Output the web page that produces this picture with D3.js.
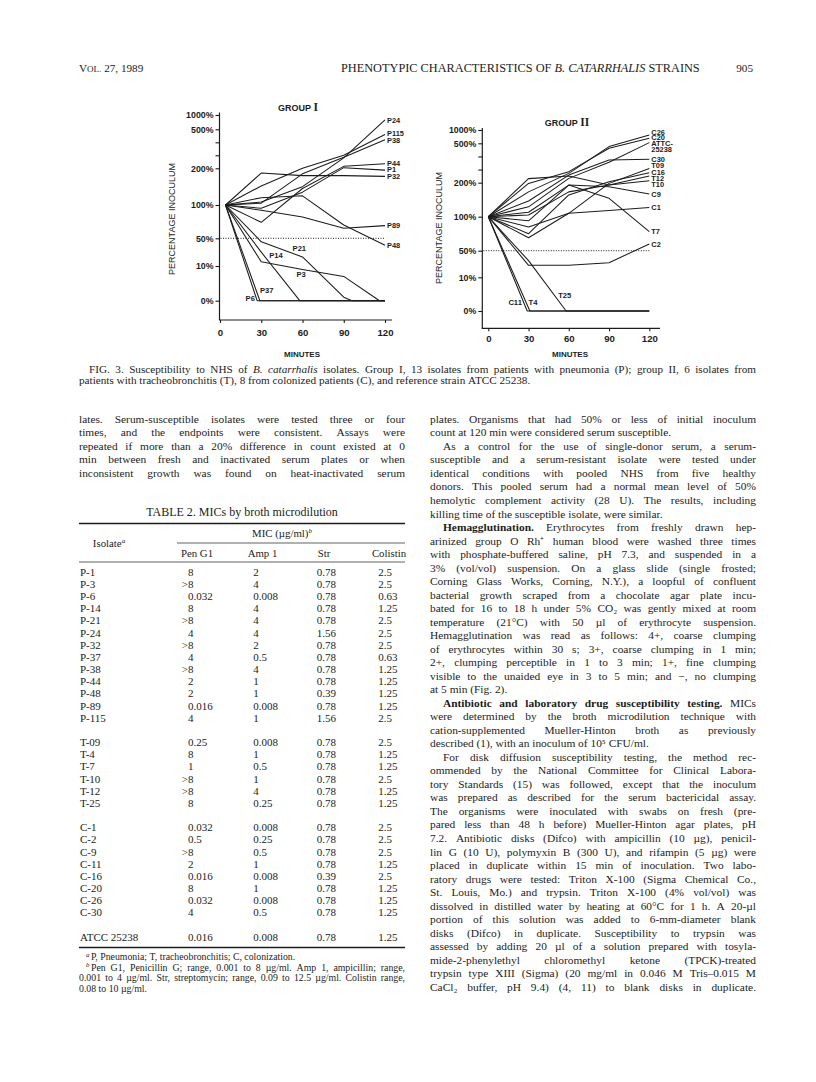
<!DOCTYPE html>
<html>
<head>
<meta charset="utf-8">
<title>Fig. 3 and Table 2</title>
<script src="https://cdn.jsdelivr.net/npm/d3@7"></script>
<style>
  body { margin: 0; background: #fff; }
  svg { display: block; }
  .serif { font-family: "Liberation Serif", "Times New Roman", serif; fill: #1c1c1c; }
  .sans { font-family: "Liberation Sans", Arial, sans-serif; fill: #1c1c1c; }
</style>
</head>
<body>
<svg id="page" width="816" height="1082"></svg>
<script>
// ---------- Fig. 3 data: [minutes, percentage of inoculum] ----------
const percentTicks = [0, 10, 50, 100, 200, 500, 1000];
const percentMinor = [300, 400];
const minuteTicks = [0, 30, 60, 90, 120];

// group I, pneumonia isolates
const P24 = [[4, 100], [30, 108], [60, 150], [90, 280], [120, 830]];
const P115 = [[4, 100], [30, 152], [60, 200], [90, 300], [120, 460]];
const P38 = [[4, 100], [30, 105], [60, 185], [90, 285], [120, 420]];
const P44 = [[4, 100], [30, 74], [60, 145], [90, 215], [120, 235]];
const P1 = [[4, 100], [30, 95], [60, 135], [90, 205], [120, 195]];
const P32 = [[4, 100], [30, 187], [60, 180], [90, 180], [120, 178]];
const P89 = [[4, 100], [30, 92], [60, 82], [90, 65], [120, 69]];
const P48 = [[4, 100], [30, 120], [60, 125], [90, 70], [120, 40]];
const P21 = [[4, 100], [30, 45], [60, 23], [90, 1], [96, 0], [120, 0]];
const P14 = [[4, 100], [30, 30], [58, 0], [120, 0]];
const P3 = [[4, 100], [30, 16], [60, 9], [90, 7], [116, 0], [120, 0]];
const P37 = [[4, 100], [29, 0], [120, 0]];
const P6 = [[4, 100], [27, 0], [120, 0]];

// group II, tracheobronchitis (T), colonization (C) and reference strain
const C26 = [[0, 100], [30, 173], [60, 271], [90, 475], [120, 812]];
const C20 = [[0, 100], [30, 198], [60, 284], [90, 462], [120, 687]];
const ATCC = [[0, 100], [30, 129], [60, 233], [90, 355], [120, 525]];
const C30 = [[0, 100], [30, 146], [60, 258], [90, 373], [120, 378]];
const T09 = [[0, 100], [30, 69], [60, 110], [90, 198], [120, 309]];
const C16 = [[0, 100], [30, 75], [60, 164], [90, 208], [120, 276]];
const T12 = [[0, 100], [30, 105], [60, 173], [90, 193], [120, 251]];
const T10 = [[0, 100], [30, 231], [60, 251], [90, 193], [120, 215]];
const C9 = [[0, 100], [30, 113], [60, 193], [90, 188], [120, 167]];
const C1 = [[0, 100], [30, 85], [60, 110], [90, 118], [120, 127]];
const T7 = [[0, 100], [30, 94], [60, 193], [90, 154], [120, 78]];
const C2 = [[0, 100], [30, 28], [60, 28], [90, 32], [120, 60]];
const T25 = [[0, 100], [30, 35], [58, 0], [120, 0]];
const C11 = [[0, 100], [29, 0], [120, 0]];
const T4 = [[0, 100], [31, 0], [120, 0]];

const groupI = {P24, P115, P38, P44, P1, P32, P89, P48, P21, P14, P3, P37, P6};
const groupII = {C26, C20, ATCC, C30, T09, C16, T12, T10, C9, C1, T7, C2, T25, C11, T4};

const groupIEndLabels = ["P24", "P115", "P38", "P44", "P1", "P32", "P89", "P48"];
const groupIIEndLabels = ["C26", "C20", "ATCC", "C30", "T09", "C16", "T12", "T10", "C9", "C1", "T7", "C2"];
// [text, minutes, percent]
const groupIInnerLabels = [["P6", 22, 0.7], ["P37", 34, 2.9], ["P14", 40.7, 25.9], ["P21", 57.7, 35.6], ["P3", 59, 7.7]];
const groupIIInnerLabels = [["C11", 20, 2.6], ["T4", 33.3, 2.6], ["T25", 57, 4.7]];

// ---------- Table 2 data ----------
const isolates = ["P-1", "P-3", "P-6", "P-14", "P-21", "P-24", "P-32", "P-37", "P-38", "P-44", "P-48", "P-89", "P-115",
  "T-09", "T-4", "T-7", "T-10", "T-12", "T-25",
  "C-1", "C-2", "C-9", "C-11", "C-16", "C-20", "C-26", "C-30", "ATCC 25238"];
const penG1 = ["8", ">8", "0.032", "8", ">8", "4", ">8", "4", ">8", "2", "2", "0.016", "4",
  "0.25", "8", "1", ">8", ">8", "8",
  "0.032", "0.5", ">8", "2", "0.016", "8", "0.032", "4", "0.016"];
const amp1 = ["2", "4", "0.008", "4", "4", "4", "2", "0.5", "4", "1", "1", "0.008", "1",
  "0.008", "1", "0.5", "1", "4", "0.25",
  "0.008", "0.25", "0.5", "1", "0.008", "1", "0.008", "0.5", "0.008"];
const strep = ["0.78", "0.78", "0.78", "0.78", "0.78", "1.56", "0.78", "0.78", "0.78", "0.78", "0.39", "0.78", "1.56",
  "0.78", "0.78", "0.78", "0.78", "0.78", "0.78",
  "0.78", "0.78", "0.78", "0.78", "0.39", "0.78", "0.78", "0.78", "0.78"];
const colistin = ["2.5", "2.5", "0.63", "1.25", "2.5", "2.5", "2.5", "0.63", "1.25", "1.25", "1.25", "1.25", "2.5",
  "2.5", "1.25", "1.25", "2.5", "1.25", "1.25",
  "2.5", "2.5", "2.5", "1.25", "2.5", "1.25", "1.25", "1.25", "1.25"];

// ---------- running text ("+" = indent, "$" = ragged last line, *bold*, ~italic~) ----------
const caption = [
  "+FIG. 3. Susceptibility to NHS of ~B. catarrhalis~ isolates. Group I, 13 isolates from patients with pneumonia (P); group II, 6 isolates from",
  "patients with tracheobronchitis (T), 8 from colonized patients (C), and reference strain ATCC 25238.$"
];
const leftText = [
  "lates. Serum-susceptible isolates were tested three or four",
  "times, and the endpoints were consistent. Assays were",
  "repeated if more than a 20% difference in count existed at 0",
  "min between fresh and inactivated serum plates or when",
  "inconsistent growth was found on heat-inactivated serum"
];
const rightText = [
  "plates. Organisms that had 50% or less of initial inoculum",
  "count at 120 min were considered serum susceptible.$",
  "+As a control for the use of single-donor serum, a serum-",
  "susceptible and a serum-resistant isolate were tested under",
  "identical conditions with pooled NHS from five healthy",
  "donors. This pooled serum had a normal mean level of 50%",
  "hemolytic complement activity (28 U). The results, including",
  "killing time of the susceptible isolate, were similar.$",
  "+*Hemagglutination.* Erythrocytes from freshly drawn hep-",
  "arinized group O Rh⁺ human blood were washed three times",
  "with phosphate-buffered saline, pH 7.3, and suspended in a",
  "3% (vol/vol) suspension. On a glass slide (single frosted;",
  "Corning Glass Works, Corning, N.Y.), a loopful of confluent",
  "bacterial growth scraped from a chocolate agar plate incu-",
  "bated for 16 to 18 h under 5% CO₂ was gently mixed at room",
  "temperature (21°C) with 50 µl of erythrocyte suspension.",
  "Hemagglutination was read as follows: 4+, coarse clumping",
  "of erythrocytes within 30 s; 3+, coarse clumping in 1 min;",
  "2+, clumping perceptible in 1 to 3 min; 1+, fine clumping",
  "visible to the unaided eye in 3 to 5 min; and −, no clumping",
  "at 5 min (Fig. 2).$",
  "+*Antibiotic and laboratory drug susceptibility testing.* MICs",
  "were determined by the broth microdilution technique with",
  "cation-supplemented Mueller-Hinton broth as previously",
  "described (1), with an inoculum of 10⁵ CFU/ml.$",
  "+For disk diffusion susceptibility testing, the method rec-",
  "ommended by the National Committee for Clinical Labora-",
  "tory Standards (15) was followed, except that the inoculum",
  "was prepared as described for the serum bactericidal assay.",
  "The organisms were inoculated with swabs on fresh (pre-",
  "pared less than 48 h before) Mueller-Hinton agar plates, pH",
  "7.2. Antibiotic disks (Difco) with ampicillin (10 µg), penicil-",
  "lin G (10 U), polymyxin B (300 U), and rifampin (5 µg) were",
  "placed in duplicate within 15 min of inoculation. Two labo-",
  "ratory drugs were tested: Triton X-100 (Sigma Chemical Co.,",
  "St. Louis, Mo.) and trypsin. Triton X-100 (4% vol/vol) was",
  "dissolved in distilled water by heating at 60°C for 1 h. A 20-µl",
  "portion of this solution was added to 6-mm-diameter blank",
  "disks (Difco) in duplicate. Susceptibility to trypsin was",
  "assessed by adding 20 µl of a solution prepared with tosyla-",
  "mide-2-phenylethyl chloromethyl ketone (TPCK)-treated",
  "trypsin type XIII (Sigma) (20 mg/ml in 0.046 M Tris–0.015 M",
  "CaCl₂ buffer, pH 9.4) (4, 11) to blank disks in duplicate."
];
const footnotes = [
  "+P, Pneumonia; T, tracheobronchitis; C, colonization.$",
  "+Pen G1, Penicillin G; range, 0.001 to 8 µg/ml. Amp 1, ampicillin; range,",
  "0.001 to 4 µg/ml. Str, streptomycin; range, 0.09 to 12.5 µg/ml. Colistin range,",
  "0.08 to 10 µg/ml.$"
];

const svg = d3.select("#page");
const ink = "#1c1c1c";

// one line of text, word by word, justified to the column width if asked
function textLine(g, raw, x, yc, width, size, indent) {
  let s = raw, ind = 0, justify = true;
  if (s.startsWith("+")) { ind = indent; s = s.slice(1); }
  if (s.endsWith("$")) { justify = false; s = s.slice(0, -1); }
  let bold = false, ital = false;
  const words = s.split(" ").map(w => {
    if (w.startsWith("*")) { bold = true; w = w.slice(1); }
    if (w.startsWith("~")) { ital = true; w = w.slice(1); }
    const d = {w, b: bold, i: ital};
    if (w.endsWith("*")) { bold = false; d.w = w.slice(0, -1); }
    if (w.endsWith("~")) { ital = false; d.w = w.slice(0, -1); }
    return d;
  });
  const nodes = words.map(d => g.append("text")
    .attr("class", "serif")
    .attr("y", yc + size * 0.34)
    .attr("font-size", size)
    .attr("font-weight", d.b ? "bold" : null)
    .attr("font-style", d.i ? "italic" : null)
    .text(d.w));
  const widths = nodes.map(n => n.node().getComputedTextLength());
  const total = d3.sum(widths);
  let gap = size * 0.25;
  if (justify && words.length > 1) gap = Math.max(size * 0.12, (width - ind - total) / (words.length - 1));
  let cx = x + ind;
  nodes.forEach((n, k) => { n.attr("x", cx); cx += widths[k] + gap; });
}

function textBlock(lines, x, y0, pitch, width, size, indent) {
  const g = svg.append("g");
  lines.forEach((l, i) => textLine(g, l, x, y0 + i * pitch, width, size, indent));
  return g;
}

// ---------- running head ----------
const head = svg.append("g");
const vol = head.append("text").attr("class", "serif").attr("x", 79).attr("y", 72).attr("font-size", 11.2);
vol.append("tspan").text("V");
vol.append("tspan").attr("font-size", 9).text("OL.");
vol.append("tspan").text(" 27, 1989");
const run = head.append("text").attr("class", "serif").attr("x", 341).attr("y", 72).attr("font-size", 12.3);
run.append("tspan").text("PHENOTYPIC CHARACTERISTICS OF ");
run.append("tspan").attr("font-style", "italic").text("B. CATARRHALIS");
run.append("tspan").text(" STRAINS");
head.append("text").attr("class", "serif").attr("x", 753).attr("y", 72).attr("font-size", 11.2)
  .attr("text-anchor", "end").text("905");

// ---------- Fig. 3 panels ----------
const panels = [
  {series: groupI, endLabels: groupIEndLabels, inner: groupIInnerLabels, numeral: "I",
    xRange: [220, 385], yRange: [300.7, 266, 238.3, 205, 168.3, 129.3, 115],
    axisX: 219.5, axisY: 320, yTop: 112.5, xEnd: 392, xPad: 6.5,
    title: [298, 108], yTitle: [171.7, 219], minutes: [302, 354]},
  {series: groupII, endLabels: groupIIEndLabels, inner: groupIIInnerLabels, numeral: "II",
    xRange: [488.3, 649.3], yRange: [311, 277.3, 250.7, 216.7, 182.7, 143.3, 130],
    axisX: 482.3, axisY: 328.3, yTop: 128, xEnd: 660, xPad: 3.7,
    title: [567, 123], yTitle: [438.3, 228], minutes: [570, 354]}
];
const endLabelText = {ATCC: ["ATTC-", "25238"]};
// small vertical nudges (px) so the stacked end labels sit as in the print
const endLabelShift = {P115: -1, P38: 0.6, P44: -0.5, P1: -0.6, P32: -0.5,
  C26: -3.2, C20: -0.8, ATCC: 0.7, T09: -2.6, C16: -0.9, T12: 1.8, T10: 3.1};

panels.forEach(p => {
  const x = d3.scaleLinear().domain([0, 120]).range(p.xRange);
  const y = d3.scaleLinear().domain(percentTicks).range(p.yRange);
  const g = svg.append("g").attr("color", ink);

  // axis lines
  g.append("line").attr("x1", p.axisX).attr("x2", p.axisX).attr("y1", p.yTop).attr("y2", p.axisY)
    .attr("stroke", ink).attr("stroke-width", 1.2);
  g.append("line").attr("x1", p.axisX - 0.6).attr("x2", p.xEnd).attr("y1", p.axisY).attr("y2", p.axisY)
    .attr("stroke", ink).attr("stroke-width", 1.2);

  const yAxis = g.append("g").attr("transform", `translate(${p.axisX},0)`)
    .call(d3.axisLeft(y).tickValues(percentTicks.concat(percentMinor)).tickSize(4).tickPadding(2)
      .tickFormat(d => percentMinor.includes(d) ? "" : d + "%"));
  yAxis.select(".domain").remove();
  yAxis.selectAll("line").attr("stroke-width", 1.1);
  yAxis.selectAll("text").attr("class", "sans").attr("font-size", 8.8).attr("font-weight", "bold");

  const xAxis = g.append("g").attr("transform", `translate(0,${p.axisY})`)
    .call(d3.axisBottom(x).tickValues(minuteTicks).tickSize(3).tickPadding(p.xPad));
  xAxis.select(".domain").remove();
  xAxis.selectAll("line").attr("stroke-width", 1.1);
  xAxis.selectAll("text").attr("class", "sans").attr("font-size", 9.6).attr("font-weight", "bold");
  svg.selectAll("g[font-family]").attr("font-family", null).attr("font-size", null);

  // 50% threshold
  g.append("line").attr("x1", p.axisX + 1).attr("x2", x(120)).attr("y1", y(50)).attr("y2", y(50))
    .attr("stroke", ink).attr("stroke-width", 1).attr("stroke-dasharray", "1,1.5");

  // isolate curves
  const line = d3.line().x(d => x(d[0])).y(d => y(d[1]));
  g.append("g").selectAll("path").data(Object.entries(p.series)).join("path")
    .attr("d", d => line(d[1]))
    .attr("fill", "none").attr("stroke", ink).attr("stroke-width", 1.05).attr("stroke-linejoin", "round");

  // labels at the right-hand end
  p.endLabels.forEach(name => {
    const pts = p.series[name];
    const last = pts[pts.length - 1];
    const yc = y(last[1]) + (endLabelShift[name] || 0);
    const rows = endLabelText[name] || [name];
    rows.forEach((t, k) => g.append("text").attr("class", "sans")
      .attr("x", x(120) + 2).attr("y", yc + k * 6.4 + 2.7)
      .attr("font-size", 7.4).attr("font-weight", "bold").text(t));
  });
  // labels inside the plot
  p.inner.forEach(([t, m, v]) => g.append("text").attr("class", "sans")
    .attr("x", x(m)).attr("y", y(v) + 2.8).attr("text-anchor", "middle")
    .attr("font-size", 7.6).attr("font-weight", "bold").text(t));

  // titles
  const tt = g.append("text").attr("class", "sans").attr("x", p.title[0]).attr("y", p.title[1] + 3.4)
    .attr("text-anchor", "middle").attr("font-size", 9).attr("font-weight", "bold");
  tt.append("tspan").text("GROUP ");
  tt.append("tspan").attr("font-family", "Liberation Serif, serif").attr("font-size", 11.5).text(p.numeral);
  g.append("text").attr("class", "sans")
    .attr("transform", `translate(${p.yTitle[0] + 3.2},${p.yTitle[1]}) rotate(-90)`)
    .attr("text-anchor", "middle").attr("font-size", 9).text("PERCENTAGE INOCULUM");
  g.append("text").attr("class", "sans").attr("x", p.minutes[0]).attr("y", p.minutes[1] + 3)
    .attr("text-anchor", "middle").attr("font-size", 8).attr("font-weight", "bold").text("MINUTES");
});

// ---------- caption and body text ----------
textBlock(caption, 79, 369, 11.5, 677, 11.2, 10);
textBlock(leftText, 79, 419, 13.52, 326, 11.4, 13);
textBlock(rightText, 430, 419, 13.52, 326, 11.4, 13);

// ---------- Table 2 ----------
const tab = svg.append("g");
tab.append("text").attr("class", "serif").attr("x", 242).attr("y", 516).attr("text-anchor", "middle")
  .attr("font-size", 12).text("TABLE 2. MICs by broth microdilution");

const rule = (x1, x2, yy, w) => tab.append("line").attr("x1", x1).attr("x2", x2).attr("y1", yy).attr("y2", yy)
  .attr("stroke", ink).attr("stroke-width", w);
rule(79, 405, 523.5, 1.5);
rule(177, 405, 543, 0.7);
rule(79, 405, 562, 0.7);
rule(79, 405, 947.5, 1.5);

function headCell(t, sup, cx, yc) {
  const el = tab.append("text").attr("class", "serif").attr("x", cx).attr("y", yc + 3.7)
    .attr("text-anchor", "middle").attr("font-size", 10.8);
  el.append("tspan").text(t);
  if (sup) el.append("tspan").attr("font-size", 7).attr("font-style", "italic").attr("dy", -4).text(sup);
}
headCell("Isolate", "a", 109, 543);
headCell("MIC (µg/ml)", "b", 282, 533);
headCell("Pen G1", null, 197, 553);
headCell("Amp 1", null, 262.5, 553);
headCell("Str", null, 324, 553);
headCell("Colistin", null, 389, 553);

const groupOf = {P: 0, T: 1, C: 2, A: 3};
const rowY = d3.scaleLinear().domain([0, 1]).range([572, 584.17]);
const cols = [[isolates, 80], [penG1, 188], [amp1, 253.3], [strep, 316.7], [colistin, 378.3]];
isolates.forEach((iso, i) => {
  const yc = rowY(i + groupOf[iso[0]]);
  cols.forEach(([arr, cx]) => {
    const v = arr[i];
    if (v.startsWith(">")) {
      tab.append("text").attr("class", "serif").attr("x", cx).attr("y", yc + 3.7).attr("font-size", 11)
        .attr("text-anchor", "end").text(">");
      tab.append("text").attr("class", "serif").attr("x", cx).attr("y", yc + 3.7).attr("font-size", 11).text(v.slice(1));
    } else {
      tab.append("text").attr("class", "serif").attr("x", cx).attr("y", yc + 3.7).attr("font-size", 11).text(v);
    }
  });
});

// footnotes with their italic superscript markers
textBlock(footnotes, 79, 957, 10.5, 326, 9.8, 12);
["a", "b"].forEach((m, k) => tab.append("text").attr("class", "serif").attr("x", 86).attr("y", 957 + k * 10.5 - 0.5)
  .attr("font-size", 6.8).attr("font-style", "italic").text(m));
</script>
</body>
</html>
